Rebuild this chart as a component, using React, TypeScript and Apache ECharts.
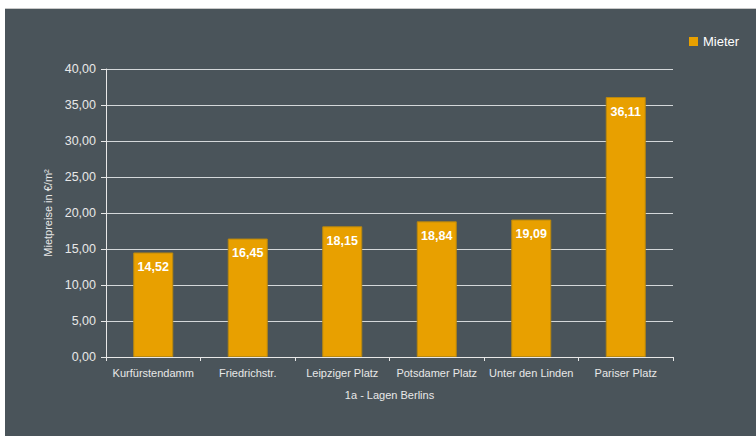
import React, { useEffect, useRef } from "react";
import * as echarts from "echarts";

const categories = ["Kurfürstendamm", "Friedrichstr.", "Leipziger Platz", "Potsdamer Platz", "Unter den Linden", "Pariser Platz"];
const mieterValues = [14.52, 16.45, 18.15, 18.84, 19.09, 36.11];
const seriesName = "Mieter";
const yAxisName = "Mietpreise in €/m²";
const xAxisName = "1a - Lagen Berlins";

const fmt = (v: number) => v.toFixed(2).replace(".", ",");
const FONT = "Liberation Sans, Arial, Helvetica, sans-serif";

export default function App() {
  const ref = useRef<HTMLDivElement>(null);
  useEffect(() => {
    const chart = echarts.init(ref.current!, null, { renderer: "svg" });
    chart.setOption({
      animation: false,
      backgroundColor: "#ffffff",
      textStyle: { fontFamily: FONT },
      graphic: [
        { type: "rect", shape: { x: 5, y: 8, width: 751, height: 1 }, style: { fill: "#c8c8c8" }, z: -10 },
        { type: "rect", shape: { x: 5, y: 9, width: 751, height: 427 }, style: { fill: "#4a545a" }, z: -10 },
      ],
      legend: {
        left: 684,
        top: 30,
        itemWidth: 9,
        itemHeight: 9,
        itemGap: 4,
        icon: "rect",
        itemStyle: { borderWidth: 0 },
        textStyle: { color: "#ffffff", fontSize: 13, fontFamily: FONT },
        data: [seriesName],
      },
      grid: { left: 106, right: 83, top: 69, bottom: 79 },
      xAxis: {
        type: "category",
        data: categories,
        name: xAxisName,
        nameLocation: "middle",
        nameGap: 32,
        nameTextStyle: { color: "#e8e8e8", fontSize: 11, fontFamily: FONT },
        axisLine: { lineStyle: { color: "#e8e8e8", width: 1 } },
        axisTick: { show: true, length: 4, interval: 0, lineStyle: { color: "#e8e8e8" } },
        axisLabel: { color: "#e8e8e8", fontSize: 11, margin: 10, interval: 0, hideOverlap: false, fontFamily: FONT },
        splitLine: { show: false },
      },
      yAxis: {
        type: "value",
        min: 0,
        max: 40,
        interval: 5,
        name: yAxisName,
        nameLocation: "middle",
        nameGap: 52,
        nameTextStyle: { color: "#e8e8e8", fontSize: 11, fontFamily: FONT },
        axisLine: { show: true, lineStyle: { color: "#e8e8e8", width: 1 } },
        axisTick: { show: true, length: 5, lineStyle: { color: "#e8e8e8" } },
        axisLabel: { color: "#e8e8e8", fontSize: 12.5, margin: 10, formatter: (v: number) => fmt(v), fontFamily: FONT },
        splitLine: { show: true, lineStyle: { color: "#d4d8da", width: 1 } },
      },
      series: [
        {
          name: seriesName,
          type: "bar",
          data: mieterValues,
          barWidth: 40,
          itemStyle: { color: "#e8a000", borderColor: "#b8870e", borderWidth: 1 },
          label: {
            show: true,
            position: "insideTop",
            distance: 8,
            color: "#ffffff",
            fontWeight: "bold",
            fontSize: 12.5,
            fontFamily: FONT,
            formatter: (p: any) => fmt(p.value),
          },
        },
      ],
    });
    return () => chart.dispose();
  }, []);
  return (
    <div style={{ position: "fixed", left: 0, top: 0, width: 756, height: 436 }}>
      <div ref={ref} style={{ width: 756, height: 436 }} />
    </div>
  );
}
